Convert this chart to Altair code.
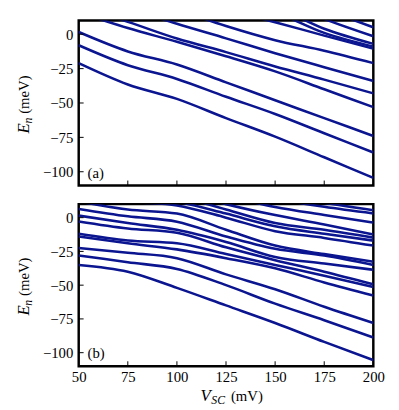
import altair as alt
import pandas as pd

# sample positions (V_SC in mV)
X = [50, 75, 100, 125, 150, 175, 200]

# panel (a): energy levels E_n (meV), lowest first; values above 10 lie outside the frame
A_LEVELS = [
    [-21, -36.5, -47, -61, -74.5, -89.5, -104.5],
    [-8, -22.5, -32.5, -45.5, -58, -72, -86],
    [1.6, -12.5, -22, -35, -48, -61, -74],
    [16, 4.5, -5.5, -16, -27, -40, -53],
    [20, 9, -3.1, -13, -23.4, -33, -43],
    [30, 19, 7.6, -3, -13.8, -24, -34],
    [40, 30, 18, 6, -4.3, -12, -21],
    [50, 40, 28, 18, 8.8, -1, -10.5],
    [55, 45, 35, 25, 16, 1, -9],
    [60, 50, 40, 30, 20, 4, -7],
    [65, 55, 45, 35, 25, 11, -1.5],
    [70, 60, 50, 40, 30, 18, 5],
]

# panel (b)
B_LEVELS = [
    [-35, -40, -52, -65, -78, -92, -105.5],
    [-28, -33, -38, -50, -63.7, -76, -88.8],
    [-22.5, -26, -30, -42, -53, -66, -78],
    [-14, -19, -23.5, -30, -37.5, -48, -57.7],
    [-12, -17, -19, -27, -35, -43, -51.4],
    [-2.8, -8, -11.2, -22, -31.5, -40, -49.4],
    [1.5, -4, -9, -18, -29.1, -34, -38.6],
    [6.5, 1, -3, -14, -23.1, -28, -35],
    [12, 6, 3, -9, -20.7, -27, -32.7],
    [18, 12, 9, 0, -10, -15, -20.7],
    [25, 18, 12, 3, -6.4, -12, -17],
    [30, 22, 16, 6, -4, -9, -14.8],
    [35, 28, 20, 10, 1.9, -5, -12.4],
    [40, 32, 25, 16, 7.9, 2, -3.6],
    [45, 38, 30, 22, 14, 8, 3.1],
    [50, 43, 35, 27, 18, 11, 5.5],
]

X_TICKS = [50, 75, 100, 125, 150, 175, 200]
Y_TICKS = [-100, -75, -50, -25, 0]
X_DOMAIN = [50, 200]
Y_DOMAIN = [-110, 10]

BLUE = "#0b1590"
FONT = "Liberation Serif, serif"
W = 300


def to_long(levels):
    rows = []
    for n, vals in enumerate(levels):
        for x, e in zip(X, vals):
            rows.append({"level": n, "x": x, "E": e})
    return pd.DataFrame(rows)


def txt(s, x, y, size, italic=False, angle=0):
    kw = dict(font=FONT, fontSize=size, align="left", baseline="middle",
              color="black", angle=angle)
    if italic:
        kw["fontStyle"] = "italic"
    return alt.Chart(pd.DataFrame({"s": [s]})).mark_text(**kw).encode(
        text="s:N", x=alt.value(x), y=alt.value(y)
    )


def panel(levels, label, height, show_x):
    df = to_long(levels)
    xs = alt.Scale(domain=X_DOMAIN, nice=False, zero=False)
    ys = alt.Scale(domain=Y_DOMAIN, nice=False, zero=False)
    x_axis = alt.Axis(
        values=X_TICKS, ticks=False, domain=False, grid=False, title=None,
        labels=show_x, labelFont=FONT, labelFontSize=15, labelPadding=4,
        labelColor="black", labelFlush=False,
    )
    y_axis = alt.Axis(
        values=Y_TICKS, ticks=False, domain=False, grid=False, title=None,
        labelFont=FONT, labelFontSize=15, labelPadding=6, labelColor="black",
        minExtent=57, maxExtent=57, labelFlush=False,
        labelExpr="replace(format(datum.value, 'd'), '-', '\u2212')",
    )
    lines = alt.Chart(df).mark_line(
        clip=True, color=BLUE, strokeWidth=2.6, interpolate="monotone"
    ).encode(
        x=alt.X("x:Q", scale=xs, axis=x_axis),
        y=alt.Y("E:Q", scale=ys, axis=y_axis),
        detail="level:N",
    )
    xt = alt.Chart(pd.DataFrame({"t": X_TICKS[1:-1]})).mark_rule(
        color="black", strokeWidth=1
    ).encode(
        x=alt.X("t:Q", scale=xs, axis=x_axis),
        y=alt.value(height), y2=alt.value(height - 5),
    )
    yt = alt.Chart(pd.DataFrame({"t": Y_TICKS})).mark_rule(
        color="black", strokeWidth=1
    ).encode(
        y=alt.Y("t:Q", scale=ys, axis=y_axis),
        x=alt.value(0), x2=alt.value(5),
    )
    lab = txt(label, 9, height - 13, 15)

    # y title: E_n (meV)
    c = height / 2
    tx = -56
    layers = [
        lines, xt, yt, lab,
        txt("E", tx, c + 31, 17, italic=True, angle=270),
        txt("n", tx + 4, c + 21, 12, italic=True, angle=270),
        txt("(meV)", tx, c + 11, 15, angle=270),
    ]
    if show_x:
        ty = height + 30
        layers += [
            txt("V", 124, ty, 17, italic=True),
            txt("SC", 135, ty + 4, 12, italic=True),
            txt("(mV)", 155, ty, 15),
        ]
    return alt.layer(*layers).properties(width=W, height=height)


top = panel(A_LEVELS, "(a)", 168, False)
bot = panel(B_LEVELS, "(b)", 165, True)

chart = alt.vconcat(top, bot, spacing=15).properties(
    padding={"left": 5, "top": 7, "right": 5, "bottom": 5},
    background="white",
).configure_view(
    stroke="black", strokeWidth=2.5
)

chart.save("out.html", embed_options={"renderer": "svg", "actions": False})
